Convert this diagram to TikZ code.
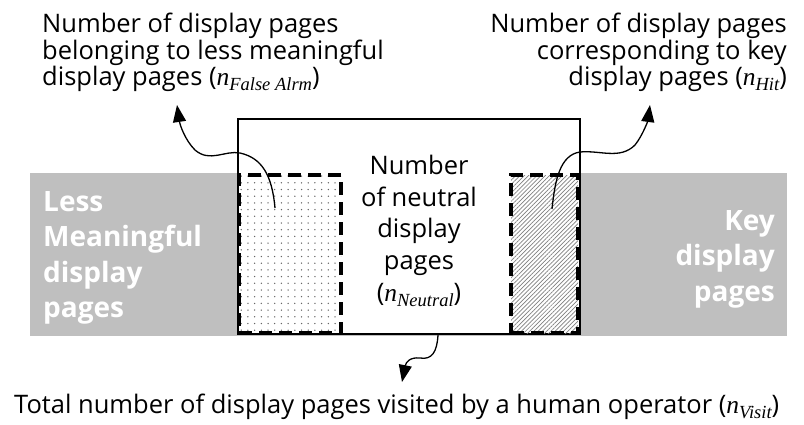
\documentclass[tikz,border=0pt]{standalone}
\usepackage{fontspec}
\setmainfont{Open Sans}
\newfontfamily\mserif{Liberation Serif}
\newcommand\mvar[2]{{\mserif\itshape #1\raisebox{-0.2em}{\fontsize{18.5}{18.5}\selectfont #2}}}
\usetikzlibrary{arrows.meta,patterns.meta}
\definecolor{band}{HTML}{BFBFBF}
\begin{document}
\begin{tikzpicture}[x=1pt,y=-1pt,
  box/.style={inner sep=0pt, outer sep=0pt, anchor=north west},
  dashbox/.style={box, draw=black, line width=4pt, dash pattern=on 13pt off 7pt},
  lbl/.style={inner sep=0pt, font=\fontsize{25.5}{26.5}\selectfont},
  bandtxt/.style={inner sep=0pt, text=white, font=\fontsize{28}{35.5}\selectfont\bfseries},
  arr/.style={line width=1.3pt, -{Triangle[length=17pt,width=13pt]}}]
\useasboundingbox (0,0) rectangle (804,424);
% grey band
\node[box, fill=band, minimum width=757pt, minimum height=163pt] (band) at (30,173) {};
% neutral box
\node[box, draw, fill=white, line width=1.2pt, minimum width=342pt, minimum height=215pt] (neutral) at (238,119) {};
% false alarm box (dotted)
\node[dashbox, pattern={Dots[distance=6.7pt,radius=0.75pt]}, pattern color=gray!80!black, minimum width=102pt, minimum height=158pt] (fa) at (239,175) {};
% hit box (hatched)
\node[dashbox, fill=white, minimum width=67pt, minimum height=158pt] (hitbg) at (511,175) {};
\node[dashbox, pattern={Lines[angle=45,distance=3pt,line width=0.7pt]}, pattern color=gray, minimum width=67pt, minimum height=158pt] (hit) at (511,175) {};
% band texts
\node[bandtxt, anchor=north west, align=left] (less) at (43,191) {Less\\Meaningful\\display\\pages};
\node[bandtxt, anchor=north east, align=right] (key) at (775,210) {Key\\display\\pages};
% centre text
\node[lbl, anchor=north, align=center, font=\fontsize{25.5}{31.7}\selectfont] (neutxt) at (419,155)
  {Number\\of neutral\\display\\pages\\(\mvar{n}{Neutral})};
% top labels
\node[lbl, anchor=north west, align=left] (falbl) at (42,13)
  {Number of display pages\\belonging to less meaningful\\display pages (\mvar{n}{False Alrm})};
\node[lbl, anchor=north east, align=right] (hitlbl) at (787,13)
  {Number of display pages\\corresponding to key\\display pages (\mvar{n}{Hit})};
\node[lbl, anchor=base west] (visit) at (14,413)
  {Total number of display pages visited by a human operator (\mvar{n}{Visit})};
% arrow end points
\coordinate (fastart) at (275,208);
\coordinate (faend) at (177,105);
\coordinate (hitstart) at (552,209);
\coordinate (hitend) at (650,105);
\coordinate (vstart) at (438,335);
\coordinate (vend) at (402,382);
\draw[arr] (fastart) .. controls (272,175) and (262,158) .. (240,153)
  .. controls (225,150) and (210,163) .. (195,150)
  .. controls (185,140) and (180,125) .. (faend);
\draw[arr] (hitstart) .. controls (555,180) and (560,155) .. (580,152)
  .. controls (600,150) and (620,160) .. (635,145)
  .. controls (643,135) and (648,120) .. (hitend);
\draw[arr] (vstart) .. controls (437,352) and (432,360) .. (420,358)
  .. controls (410,357) and (406,362) .. (vend);
\end{tikzpicture}
\end{document}
